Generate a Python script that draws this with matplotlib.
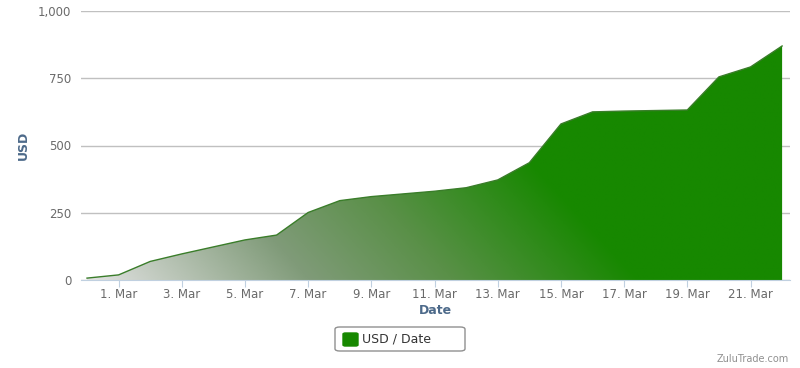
import numpy as np
import matplotlib
matplotlib.use("Agg")
import matplotlib.pyplot as plt
import matplotlib.dates as mdates
from matplotlib.colors import LinearSegmentedColormap
from matplotlib.patches import Polygon, FancyBboxPatch

# data (USD per day)
dates = np.arange(np.datetime64("2013-02-28"), np.datetime64("2013-03-23"))
usd = [7, 19, 69, 97, 123, 149, 167, 251, 295, 310, 320, 330, 343, 372,
       436, 580, 625, 628, 630, 632, 755, 792, 870]
tick_days = np.arange(np.datetime64("2013-03-01"), np.datetime64("2013-03-22"), 2)
tick_labels = ["1. Mar", "3. Mar", "5. Mar", "7. Mar", "9. Mar", "11. Mar",
               "13. Mar", "15. Mar", "17. Mar", "19. Mar", "21. Mar"]
y_ticks = [0, 250, 500, 750, 1000]
y_labels = ["0", "250", "500", "750", "1,000"]

green = "#178800"
label_col = "#4d6a8a"
tick_col = "#6a6a6a"

fig = plt.figure(figsize=(8, 3.68), dpi=100)
ax = fig.add_axes([81 / 800, 88 / 368, 709 / 800, 269 / 368])

x = mdates.date2num(dates.astype("datetime64[s]").astype(object))
xt = mdates.date2num(tick_days.astype("datetime64[s]").astype(object))
x0 = x[0] - 0.19
x1 = x[-1] + 0.25
ax.set_xlim(x0, x1)
ax.set_ylim(0, 1000)

# diagonal gradient fill, clipped to the area
cmap = LinearSegmentedColormap.from_list(
    "g", [(0.0, "#e2e2e2"), (0.4, "#809b79"), (0.66, "#5a9048"), (1.0, green)])
nu, nv = 400, 200
u = np.linspace(0, 1, nu)
v = np.linspace(0, 1, nv)
U, V = np.meshgrid(u, v)
T = ((709 * U - 6) * 120 + 269 * V * 110) / 66360
T = np.clip(T, 0, 1)
im = ax.imshow(T, cmap=cmap, vmin=0, vmax=1, origin="lower", aspect="auto",
               extent=[x0, x1, 0, 1000], zorder=2, interpolation="bilinear")
verts = np.column_stack([np.r_[x[0], x, x[-1]], np.r_[0, usd, 0]])
poly = Polygon(verts, closed=True, facecolor="none", edgecolor="none",
               transform=ax.transData)
ax.add_patch(poly)
im.set_clip_path(poly)
ax.plot(x, usd, color="#3a7d2a", lw=1, zorder=3)

ax.set_yticks(y_ticks)
ax.set_yticklabels(y_labels)
ax.set_xticks(xt)
ax.set_xticklabels(tick_labels)
ax.grid(axis="y", color="#c0c0c0", lw=1, zorder=1)
ax.tick_params(axis="y", length=0, pad=7, labelsize=8.5, labelcolor=tick_col)
ax.tick_params(axis="x", length=5, color="#c0d0e0", pad=1, labelsize=8.5,
               labelcolor=tick_col)
for s in ["top", "right", "left"]:
    ax.spines[s].set_visible(False)
ax.spines["bottom"].set_color("#c0d0e0")
ax.set_facecolor("white")

ax.set_ylabel("USD", color=label_col, fontsize=9, fontweight="bold", labelpad=6)
ax.set_xlabel("Date", color=label_col, fontsize=9, fontweight="bold", labelpad=2)

# legend box drawn by hand to match its width
W, H = 800, 368
box = FancyBboxPatch((335 / W, 1 - 351 / H), 130 / W, 24 / H,
                     boxstyle="round,pad=0,rounding_size=0.006",
                     transform=fig.transFigure, facecolor="white",
                     edgecolor="#909090", lw=1)
fig.add_artist(box)
sym = FancyBboxPatch((343 / W, 1 - 346 / H), 15 / W, 13 / H,
                     boxstyle="round,pad=0,rounding_size=0.003",
                     transform=fig.transFigure, facecolor=green, edgecolor=green)
fig.add_artist(sym)
fig.text(362 / W, 1 - 339.5 / H, "USD / Date", ha="left", va="center",
         fontsize=9, color="#333333")

fig.text(789 / W, 1 - 359 / H, "ZuluTrade.com", ha="right", va="center",
         fontsize=7, color="#909090")

fig.savefig("out.png", dpi=100)
